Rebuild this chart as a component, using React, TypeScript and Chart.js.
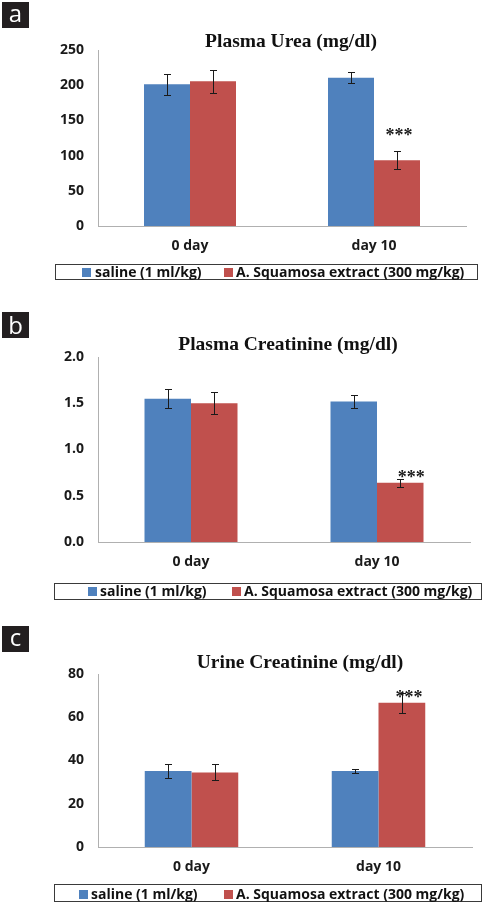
import React, { useEffect, useRef } from 'react';
import { Chart, registerables } from 'chart.js';

Chart.register(...registerables);

// ---------- data ----------
const categories = ['0 day', 'day 10'];
const seriesLabels = ['saline (1 ml/kg)', 'A. Squamosa extract (300 mg/kg)'];
const seriesColors = ['#4F81BD', '#C0504D'];
const significance = '***';

const panelLetters = ['a', 'b', 'c'];
const panelTitles = ['Plasma Urea (mg/dl)', 'Plasma Creatinine (mg/dl)', 'Urine Creatinine (mg/dl)'];

const ureaSaline = [201.5, 210.5];
const ureaSalineErr = [15, 8];
const ureaExtract = [205.5, 93.5];
const ureaExtractErr = [16, 13];
const ureaTicks = ['0', '50', '100', '150', '200', '250'];
const ureaMax = 250;
const ureaStep = 50;
const ureaStarValue = 134;

const plasmaCreatSaline = [1.55, 1.52];
const plasmaCreatSalineErr = [0.1, 0.07];
const plasmaCreatExtract = [1.5, 0.64];
const plasmaCreatExtractErr = [0.12, 0.04];
const plasmaCreatTicks = ['0.0', '0.5', '1.0', '1.5', '2.0'];
const plasmaCreatMax = 2.0;
const plasmaCreatStep = 0.5;
const plasmaCreatStarValue = 0.74;

const urineCreatSaline = [35.1, 35.2];
const urineCreatSalineErr = [3.3, 1.0];
const urineCreatExtract = [34.5, 66.7];
const urineCreatExtractErr = [3.7, 4.6];
const urineCreatTicks = ['0', '20', '40', '60', '80'];
const urineCreatMax = 80;
const urineCreatStep = 20;
const urineCreatStarValue = 70.8;

const panelData = [
  {
    ticks: ureaTicks, max: ureaMax, step: ureaStep, star: ureaStarValue,
    series: [
      { values: ureaSaline, errors: ureaSalineErr },
      { values: ureaExtract, errors: ureaExtractErr },
    ],
  },
  {
    ticks: plasmaCreatTicks, max: plasmaCreatMax, step: plasmaCreatStep, star: plasmaCreatStarValue,
    series: [
      { values: plasmaCreatSaline, errors: plasmaCreatSalineErr },
      { values: plasmaCreatExtract, errors: plasmaCreatExtractErr },
    ],
  },
  {
    ticks: urineCreatTicks, max: urineCreatMax, step: urineCreatStep, star: urineCreatStarValue,
    series: [
      { values: urineCreatSaline, errors: urineCreatSalineErr },
      { values: urineCreatExtract, errors: urineCreatExtractErr },
    ],
  },
];

// ---------- layout (canvas-relative pixels) ----------
const W = 485;
const layouts = [
  {
    top: 0, height: 300, area: { l: 98, r: 466, t: 50, b: 226 },
    titleX: 291, titleY: 42, letterY: 2, starDx: 2,
    legend: { x1: 55, x2: 477, y1: 264, y2: 279, sq1: 82, tx1: 95, sq2: 224, tx2: 236, ty: 272 },
  },
  {
    top: 300, height: 300, area: { l: 98, r: 470, t: 57, b: 242 },
    titleX: 288, titleY: 45, letterY: 12, starDx: 11,
    legend: { x1: 54, x2: 481, y1: 283, y2: 299, sq1: 88, tx1: 100, sq2: 232, tx2: 244, ty: 291 },
  },
  {
    top: 600, height: 304, area: { l: 98, r: 472, t: 74, b: 247 },
    titleX: 300, titleY: 63, letterY: 26, starDx: 7,
    legend: { x1: 54, x2: 481, y1: 284, y2: 301, sq1: 79, tx1: 91, sq2: 224, tx2: 236, ty: 294 },
  },
];

const sansBold = { family: '"Open Sans", "Liberation Sans", sans-serif', size: 14, weight: 'bold' as const };
const textColor = '#1a1a1a';
const axisColor = '#b0b0b0';

function makeDecor(idx: number) {
  const L = layouts[idx];
  const D = panelData[idx];
  return {
    id: 'decor' + idx,
    afterDatasetsDraw(chart: any) {
      const ctx: CanvasRenderingContext2D = chart.ctx;
      const yScale = chart.scales.y;
      ctx.save();
      // error bars
      ctx.strokeStyle = '#1a1a1a';
      ctx.lineWidth = 1;
      D.series.forEach((s, di) => {
        const meta = chart.getDatasetMeta(di);
        meta.data.forEach((el: any, i: number) => {
          const v = s.values[i];
          const e = s.errors[i];
          const x = Math.round(el.x) + 0.5;
          const yT = Math.round(yScale.getPixelForValue(v + e)) + 0.5;
          const yB = Math.round(yScale.getPixelForValue(v - e)) + 0.5;
          ctx.beginPath();
          ctx.moveTo(x, yT); ctx.lineTo(x, yB);
          ctx.moveTo(x - 3.5, yT); ctx.lineTo(x + 3.5, yT);
          ctx.moveTo(x - 3.5, yB); ctx.lineTo(x + 3.5, yB);
          ctx.stroke();
        });
      });
      // significance stars over extract bar at day 10
      const starEl: any = chart.getDatasetMeta(1).data[1];
      ctx.font = 'bold 18px "Liberation Serif", "Times New Roman", serif';
      ctx.fillStyle = '#1a1a1a';
      ctx.textAlign = 'center';
      ctx.textBaseline = 'alphabetic';
      const m = ctx.measureText(significance);
      const yc = yScale.getPixelForValue(D.star);
      ctx.fillText(significance, starEl.x + L.starDx, yc + (m.actualBoundingBoxAscent - m.actualBoundingBoxDescent) / 2);
      ctx.restore();
    },
    afterDraw(chart: any) {
      const ctx: CanvasRenderingContext2D = chart.ctx;
      ctx.save();
      // panel letter
      ctx.fillStyle = '#231f20';
      ctx.fillRect(2, L.letterY, 27, 26);
      ctx.fillStyle = '#ffffff';
      ctx.font = '24px "Open Sans", "Liberation Sans", sans-serif';
      ctx.textAlign = 'center';
      ctx.textBaseline = 'alphabetic';
      const lm = ctx.measureText(panelLetters[idx]);
      ctx.fillText(panelLetters[idx], 15.5, L.letterY + 13 + (lm.actualBoundingBoxAscent - lm.actualBoundingBoxDescent) / 2);
      // title
      ctx.fillStyle = '#111111';
      ctx.font = 'bold 19.5px "Liberation Serif", "Times New Roman", serif';
      ctx.textBaseline = 'middle';
      ctx.fillText(panelTitles[idx], L.titleX, L.titleY);
      // legend box
      const g = L.legend;
      ctx.strokeStyle = '#3a3a3a';
      ctx.lineWidth = 1;
      ctx.strokeRect(g.x1 + 0.5, g.y1 + 0.5, g.x2 - g.x1, g.y2 - g.y1);
      ctx.fillStyle = seriesColors[0];
      ctx.fillRect(g.sq1, g.ty - 4, 9, 9);
      ctx.fillStyle = seriesColors[1];
      ctx.fillRect(g.sq2, g.ty - 4, 9, 9);
      ctx.fillStyle = '#111111';
      ctx.font = 'bold 14px "Open Sans", "Liberation Sans", sans-serif';
      ctx.textAlign = 'left';
      ctx.textBaseline = 'middle';
      ctx.fillText(seriesLabels[0], g.tx1, g.ty + 1);
      ctx.fillText(seriesLabels[1], g.tx2, g.ty + 1);
      ctx.restore();
    },
  };
}

function Panel({ idx }: { idx: number }) {
  const ref = useRef<HTMLCanvasElement>(null);
  const L = layouts[idx];
  useEffect(() => {
    const D = panelData[idx];
    const chart = new Chart(ref.current as HTMLCanvasElement, {
      type: 'bar',
      data: {
        labels: categories,
        datasets: D.series.map((s, di) => ({
          label: seriesLabels[di],
          data: s.values,
          backgroundColor: seriesColors[di],
          borderWidth: 0,
          categoryPercentage: 0.5,
          barPercentage: 1.0,
        })),
      },
      options: {
        responsive: false,
        animation: false,
        layout: { padding: { top: L.area.t, right: W - L.area.r, left: 0, bottom: 0 } },
        plugins: {
          legend: { display: false },
          title: { display: false },
          tooltip: { enabled: false },
        },
        scales: {
          x: {
            grid: { display: false, drawTicks: false },
            border: { display: true, color: axisColor, width: 1 },
            ticks: { padding: 12, color: textColor, font: sansBold },
            afterFit: (s: any) => { s.height = L.height - L.area.b; },
          },
          y: {
            min: 0,
            max: D.max,
            grid: { display: false, drawTicks: false },
            border: { display: true, color: axisColor, width: 1 },
            ticks: {
              stepSize: D.step,
              padding: 14,
              color: textColor,
              font: sansBold,
              callback: (_v: any, i: number) => D.ticks[i],
            },
            afterFit: (s: any) => { s.width = L.area.l; },
          },
        },
      },
      plugins: [makeDecor(idx)],
    } as any);
    return () => chart.destroy();
  }, [idx]);
  return (
    <div style={{ position: 'absolute', left: 0, top: L.top, width: W, height: L.height }}>
      <canvas ref={ref} width={W} height={L.height} style={{ display: 'block' }} />
    </div>
  );
}

export default function App() {
  return (
    <div style={{ position: 'absolute', left: 0, top: 0, width: W, height: 904, background: '#ffffff', overflow: 'hidden' }}>
      <Panel idx={0} />
      <Panel idx={1} />
      <Panel idx={2} />
    </div>
  );
}
